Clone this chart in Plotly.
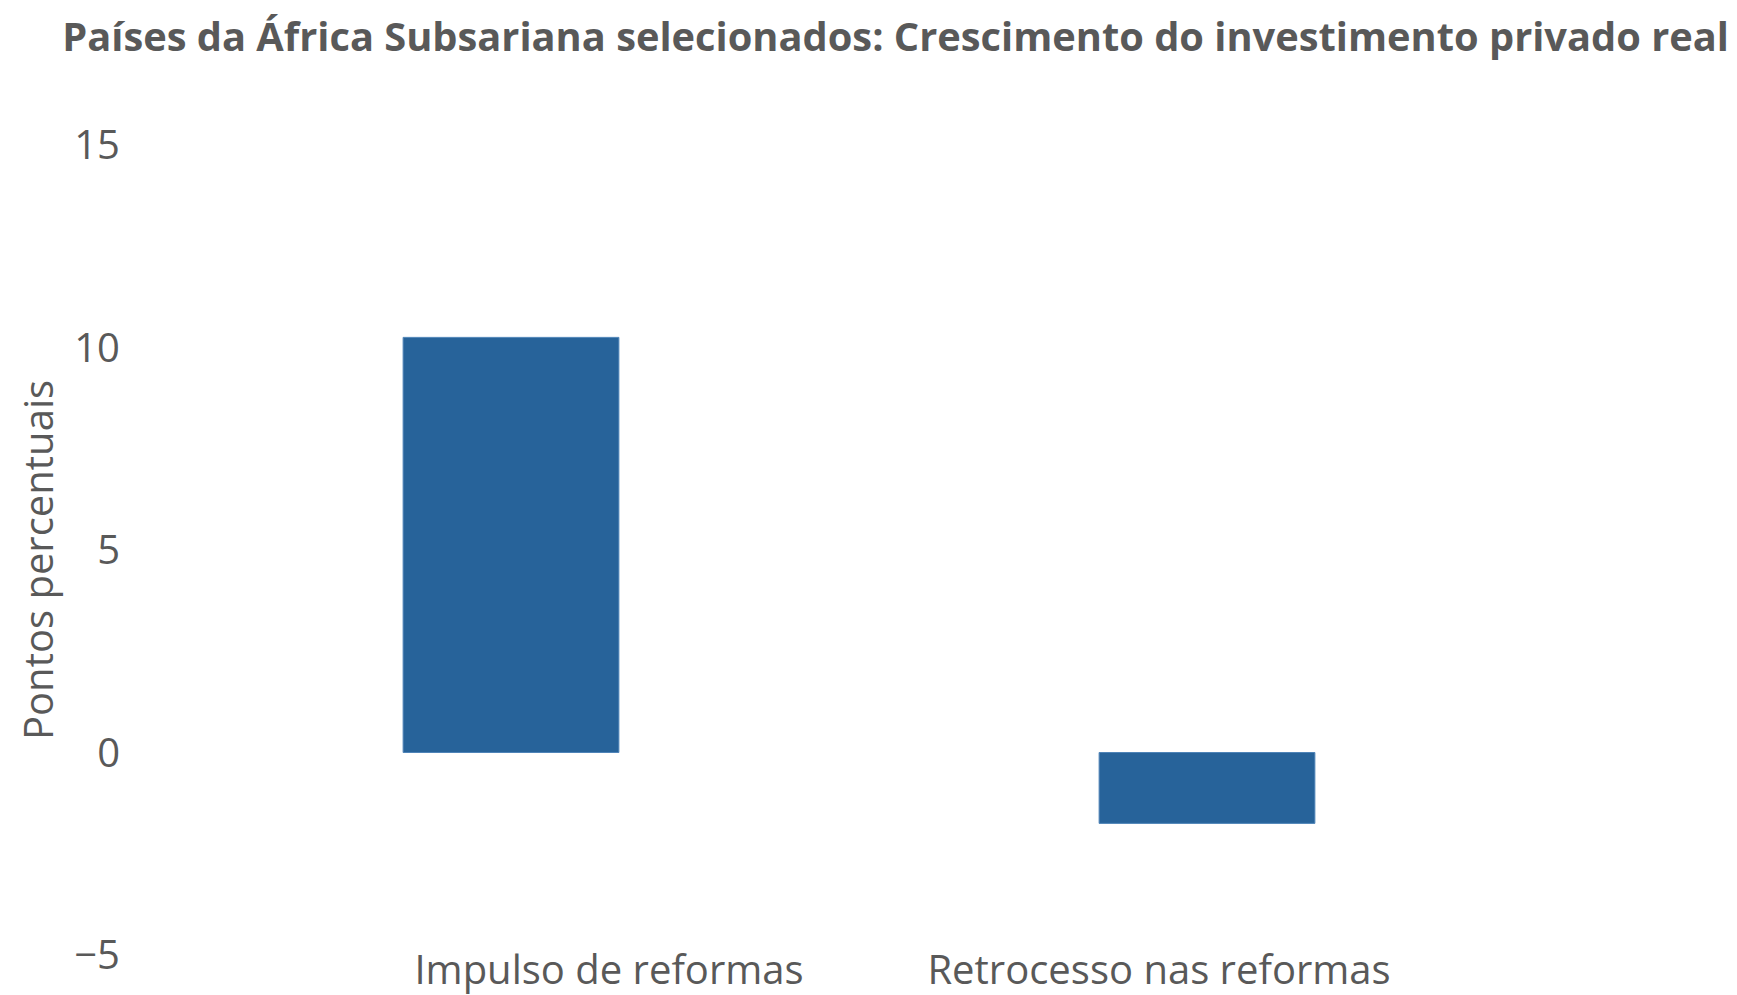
import plotly.graph_objects as go

categories = ["Impulso de reformas", "Retrocesso nas reformas"]
values = [10.25, -1.75]
y_ticks = [-5, 0, 5, 10, 15]
title_text = "Países da África Subsariana selecionados: Crescimento do investimento privado real"
y_title = "Pontos percentuais"

GRAY = "#595959"
BLUE = "#27639a"
FONT = "Open Sans"

W, H = 1737, 995
ML, MR, MT, MB = 155, 190, 137, 48
PW = W - ML - MR
PH = H - MT - MB

fig = go.Figure()
fig.add_trace(go.Bar(
    x=categories, y=values, marker=dict(color=BLUE, line=dict(color="#4f84b8", width=1)),
    width=0.31, showlegend=False, hoverinfo="x+y",
))
# invisible trace carrying the category labels on a second (overlaid) axis
fig.add_trace(go.Bar(
    x=categories, y=values, xaxis="x2",
    marker=dict(color="rgba(0,0,0,0)", line=dict(width=0)),
    showlegend=False, hoverinfo="skip",
))

# label axis: category centres offset from the bars, as in the reference
lab_c0, lab_step = 601, 550
x2_range = [(ML - lab_c0) / lab_step, (ML + PW - lab_c0) / lab_step]

fig.update_layout(
    width=W, height=H,
    paper_bgcolor="white", plot_bgcolor="white",
    margin=dict(l=ML, r=MR, t=MT, b=MB),
    title=dict(text="<b>" + title_text + "</b>", x=0.511, xanchor="center", y=0.9705, yanchor="middle",
               font=dict(family=FONT, size=39.8, color=GRAY)),
    xaxis=dict(range=[-0.5, 1.5], showticklabels=False, showgrid=False, zeroline=False,
               showline=False, ticks="", automargin=False),
    xaxis2=dict(range=x2_range, anchor="y", overlaying="x",
                showgrid=False, zeroline=False, showline=False, ticks="", ticklen=0,
                ticklabelstandoff=-12, automargin=False,
                tickfont=dict(family=FONT, size=40, color=GRAY)),
    yaxis=dict(range=[-5, 15], tickvals=y_ticks, showgrid=False, zeroline=False,
               showline=False, ticks="", ticklabelstandoff=42, automargin=False,
               tickfont=dict(family=FONT, size=40, color=GRAY)),
    barmode="overlay",
    annotations=[dict(
        text=y_title, textangle=-90, xref="paper", yref="paper",
        x=(29 - ML) / PW, y=1 - (552 - MT) / PH, xanchor="center", yanchor="middle",
        showarrow=False, font=dict(family=FONT, size=40, color=GRAY),
    )],
)

fig.write_html("out.html")
